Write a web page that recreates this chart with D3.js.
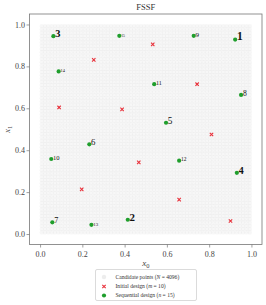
<!DOCTYPE html>
<html>
<head>
<meta charset="utf-8">
<script src="https://cdn.jsdelivr.net/npm/d3@7"></script>
<style>
  body { margin: 0; background: #fff; }
  text { font-family: "Liberation Serif", "DejaVu Serif", serif; }
</style>
</head>
<body>
<svg id="chart" width="266" height="305"></svg>
<script>
// candidate set: 64 x 64 grid levels (N = 4096)
const candidateLevels = d3.range(64).map(i => (i + 0.5) / 64)

// initial design (m = 10)
const initX = [0.533, 0.254, 0.743, 0.090, 0.388, 0.811, 0.467, 0.197, 0.658, 0.901]
const initY = [0.905, 0.831, 0.715, 0.604, 0.595, 0.475, 0.342, 0.213, 0.164, 0.062]

// sequential design (n = 15), in order of selection
const seqLabels = ['1', '2', '3', '4', '5', '6', '7', '8', '9', '10', '11', '12', '13', '14', '15']
const seqX = [0.923, 0.415, 0.063, 0.931, 0.596, 0.233, 0.058, 0.951, 0.727, 0.053, 0.540, 0.658, 0.243, 0.088, 0.375]
const seqY = [0.928, 0.068, 0.944, 0.292, 0.531, 0.428, 0.056, 0.664, 0.946, 0.358, 0.715, 0.350, 0.044, 0.776, 0.946]

const ticks = [0.0, 0.2, 0.4, 0.6, 0.8, 1.0]

const padL = 29.5, padR = 262, padT = 14, padB = 244.5

let svg = d3.select('#chart')

let xScale = d3.scaleLinear()
    .domain([-0.05, 1.05])
    .range([padL, padR])
let yScale = d3.scaleLinear()
    .domain([-0.05, 1.05])
    .range([padB, padT])

// candidate points
let candidates = []
candidateLevels.forEach(a => candidateLevels.forEach(b => candidates.push([a, b])))

svg.append('g')
    .selectAll('circle')
    .data(candidates)
    .join('circle')
    .attr('cx', d => xScale(d[0]))
    .attr('cy', d => yScale(d[1]))
    .attr('r', 2.2)
    .attr('fill', '#b8b8b8')
    .attr('fill-opacity', 0.11)

// frame
svg.append('rect')
    .attr('x', padL)
    .attr('y', padT)
    .attr('width', padR - padL)
    .attr('height', padB - padT)
    .attr('fill', 'none')
    .attr('stroke', '#777')
    .attr('stroke-width', 0.8)

let xAxisGen = d3.axisBottom(xScale)
    .tickValues(ticks)
    .tickSize(3)
    .tickFormat(d3.format('.1f'))
let yAxisGen = d3.axisLeft(yScale)
    .tickValues(ticks)
    .tickSize(3)
    .tickFormat(d3.format('.1f'))

let xAxis = svg.append('g')
    .attr('transform', `translate(0, ${padB})`)
    .call(xAxisGen)
let yAxis = svg.append('g')
    .attr('transform', `translate(${padL}, 0)`)
    .call(yAxisGen)

;[xAxis, yAxis].forEach(ax => {
    ax.select('.domain').remove()
    ax.selectAll('line').attr('stroke', '#777').attr('stroke-width', 0.7)
    ax.selectAll('text')
        .attr('fill', '#444')
        .style('font-size', '8px')
        .style('font-family', '"Liberation Serif", serif')
})
xAxis.selectAll('text').attr('dy', '0.75em').attr('y', 6)
yAxis.selectAll('text').attr('x', -4.5)

// initial design
let cross = d3.symbol().type(d3.symbolX).size(9)
svg.append('g')
    .selectAll('path')
    .data(initX.map((x, i) => [x, initY[i]]))
    .join('path')
    .attr('d', cross)
    .attr('transform', d => `translate(${xScale(d[0])}, ${yScale(d[1])})`)
    .attr('fill', 'none')
    .attr('stroke', '#e8303a')
    .attr('stroke-width', 1.1)

// sequential design
let seq = seqX.map((x, i) => ({ x: x, y: seqY[i], label: seqLabels[i], i: i }))
svg.append('g')
    .selectAll('circle')
    .data(seq)
    .join('circle')
    .attr('cx', d => xScale(d.x))
    .attr('cy', d => yScale(d.y))
    .attr('r', 2.1)
    .attr('fill', '#1f9e2c')

svg.append('g')
    .selectAll('text')
    .data(seq)
    .join('text')
    .attr('x', d => xScale(d.x) + 1.8)
    .attr('y', d => yScale(d.y) + 0.8)
    .style('font-size', d => `${11.5 - 0.55 * d.i}px`)
    .style('font-weight', d => d.i < 4 ? 'bold' : 'normal')
    .attr('fill', '#111')
    .text(d => d.label)

// title and axis labels
svg.append('text')
    .attr('x', (padL + padR) / 2)
    .attr('y', 10)
    .attr('text-anchor', 'middle')
    .style('font-size', '8.5px')
    .attr('fill', '#333')
    .text('FSSF')

let xl = svg.append('text')
    .attr('x', (padL + padR) / 2)
    .attr('y', 266)
    .attr('text-anchor', 'middle')
    .style('font-size', '9px')
    .attr('fill', '#444')
xl.append('tspan').style('font-style', 'italic').text('x')
xl.append('tspan').attr('dy', 2).style('font-size', '6.5px').text('0')

let yl = svg.append('text')
    .attr('transform', `translate(10, ${(padT + padB) / 2}) rotate(-90)`)
    .attr('text-anchor', 'middle')
    .style('font-size', '9px')
    .attr('fill', '#444')
yl.append('tspan').style('font-style', 'italic').text('x')
yl.append('tspan').attr('dy', 2).style('font-size', '6.5px').text('1')

// legend
let legend = svg.append('g')
legend.append('rect')
    .attr('x', 95.5)
    .attr('y', 269.5)
    .attr('width', 101)
    .attr('height', 31)
    .attr('rx', 1.5)
    .attr('fill', '#fff')
    .attr('stroke', '#ccc')
    .attr('stroke-width', 0.7)

let rows = [
    { y: 277, parts: [['Candidate points (', 0], ['N', 1], [' = 4096)', 0]] },
    { y: 286.5, parts: [['Initial design (', 0], ['m', 1], [' = 10)', 0]] },
    { y: 295.5, parts: [['Sequential design (', 0], ['n', 1], [' = 15)', 0]] }
]
legend.append('circle')
    .attr('cx', 104).attr('cy', rows[0].y).attr('r', 2.2)
    .attr('fill', '#b8b8b8').attr('fill-opacity', 0.25)
legend.append('path')
    .attr('d', cross)
    .attr('transform', `translate(104, ${rows[1].y})`)
    .attr('fill', 'none').attr('stroke', '#e8303a').attr('stroke-width', 1.1)
legend.append('circle')
    .attr('cx', 104).attr('cy', rows[2].y).attr('r', 2.1)
    .attr('fill', '#1f9e2c')

rows.forEach(r => {
    let t = legend.append('text')
        .attr('x', 115.5)
        .attr('y', r.y + 1.8)
        .style('font-size', '5.6px')
        .attr('fill', '#333')
    r.parts.forEach(p => t.append('tspan')
        .style('font-style', p[1] ? 'italic' : 'normal')
        .text(p[0]))
})
</script>
</body>
</html>
